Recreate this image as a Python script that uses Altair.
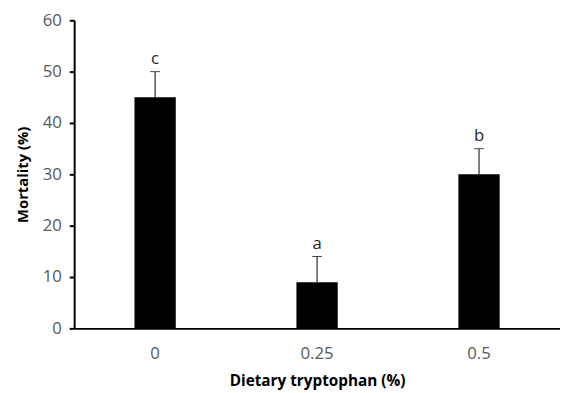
import altair as alt
import pandas as pd

doses = ["0", "0.25", "0.5"]
mortality = [45, 9, 30]
sd = [5, 5, 5]
letters = ["c", "a", "b"]

df = pd.DataFrame({
    "dose": doses,
    "mortality": mortality,
    "top": [m + s for m, s in zip(mortality, sd)],
    "letter": letters,
})

FONT = "Open Sans"

x = alt.X("dose:N", sort=doses, title="Dietary tryptophan  (%)",
          scale=alt.Scale(paddingInner=0.745, paddingOuter=0.3725),
          axis=alt.Axis(labelAngle=0, ticks=False, domainColor="black", domainWidth=2,
                        labelColor="#595959", labelFontSize=17, labelFont=FONT, labelPadding=18,
                        titleFont=FONT, titleFontSize=15.5, titleFontWeight="bold",
                        titleColor="black", titlePadding=12))

y_axis = alt.Axis(values=[0, 10, 20, 30, 40, 50, 60], grid=False, domainColor="black",
                  domainWidth=2, tickColor="black", tickWidth=2, tickSize=5,
                  labelColor="#595959", labelFontSize=17, labelFont=FONT, labelPadding=8,
                  titleFont=FONT, titleFontSize=15, titleFontWeight="bold",
                  titleColor="black", titlePadding=12)

base = alt.Chart(df)

bars = base.mark_bar(color="black").encode(
    x=x,
    y=alt.Y("mortality:Q", title="Mortality (%)", scale=alt.Scale(domain=[0, 60], nice=False),
            axis=y_axis),
)

err = base.mark_rule(color="black", strokeWidth=1).encode(
    x=alt.X("dose:N", sort=doses),
    y="mortality:Q",
    y2="top:Q",
)

cap = base.mark_tick(color="black", thickness=1, size=10).encode(
    x=alt.X("dose:N", sort=doses),
    y="top:Q",
)

txt = base.mark_text(font=FONT, fontSize=17, color="#262626", baseline="bottom", dy=-4).encode(
    x=alt.X("dose:N", sort=doses),
    y="top:Q",
    text="letter:N",
)

chart = alt.layer(bars, err, cap, txt).properties(
    width=492, height=312,
    autosize=alt.AutoSizeParams(type="none"),
    padding={"left": 67, "top": 10, "right": 0, "bottom": 63},
).configure_view(stroke=None)

chart.save("out.html", embed_options={"renderer": "svg", "actions": False})
